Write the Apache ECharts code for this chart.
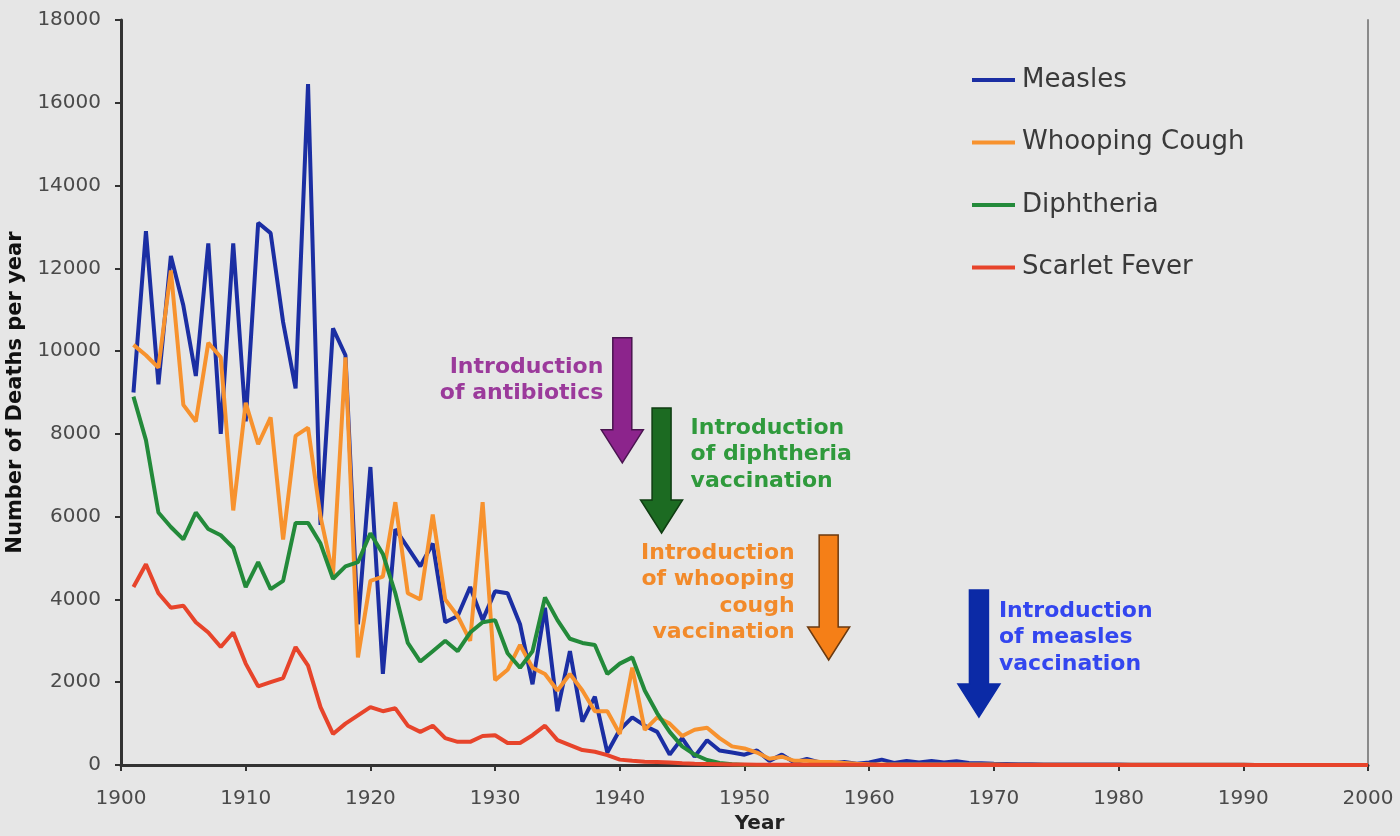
<!DOCTYPE html>
<html>
<head>
<meta charset="utf-8">
<script src="https://cdn.jsdelivr.net/npm/echarts@6/dist/echarts.min.js"></script>
<style>
html,body{margin:0;padding:0;background:#e6e6e6;}
#chart{width:1400px;height:836px;}
</style>
</head>
<body>
<div id="chart"></div>
<script>
// Years 1901..2000
const years = [
1901,1902,1903,1904,1905,1906,1907,1908,1909,1910,
1911,1912,1913,1914,1915,1916,1917,1918,1919,1920,
1921,1922,1923,1924,1925,1926,1927,1928,1929,1930,
1931,1932,1933,1934,1935,1936,1937,1938,1939,1940,
1941,1942,1943,1944,1945,1946,1947,1948,1949,1950,
1951,1952,1953,1954,1955,1956,1957,1958,1959,1960,
1961,1962,1963,1964,1965,1966,1967,1968,1969,1970,
1971,1972,1973,1974,1975,1976,1977,1978,1979,1980,
1981,1982,1983,1984,1985,1986,1987,1988,1989,1990,
1991,1992,1993,1994,1995,1996,1997,1998,1999,2000];

const measles = [
9000,12900,9200,12300,11100,9400,12600,8000,12600,8300,
13100,12850,10700,9100,16450,5800,10550,9900,3400,7200,
2200,5700,5250,4800,5350,3450,3600,4300,3500,4200,
4150,3400,1950,3800,1300,2750,1050,1650,300,850,
1150,950,800,250,650,200,600,350,300,250,
350,100,250,60,150,60,40,70,30,60,
130,50,100,60,100,60,90,50,40,30,
25,20,20,15,15,10,10,10,10,10,
5,5,5,5,5,5,5,5,5,5,
0,0,0,0,0,0,0,0,0,0];

const whoopingCough = [
10150,9900,9600,11950,8700,8300,10200,9850,6150,8750,
7750,8400,5450,7950,8150,6000,4600,9850,2600,4450,
4550,6350,4150,4000,6050,4000,3600,3000,6350,2050,
2300,2900,2350,2200,1800,2200,1800,1300,1300,750,
2350,850,1150,1000,700,850,900,650,450,400,
300,150,200,100,100,80,70,50,30,20,
15,15,15,15,15,10,10,10,10,10,
5,5,5,5,5,5,5,5,5,5,
5,5,5,5,5,5,5,5,5,5,
0,0,0,0,0,0,0,0,0,0];

const diphtheria = [
8900,7850,6100,5750,5450,6100,5700,5550,5250,4300,
4900,4250,4450,5850,5850,5350,4500,4800,4900,5600,
5100,4150,2950,2500,2750,3000,2750,3200,3450,3500,
2700,2350,2750,4050,3500,3050,2950,2900,2200,2450,
2600,1800,1250,800,450,250,120,50,20,0,
0,0,0,0,0,0,0,0,0,0,
0,0,0,0,0,0,0,0,0,0,
0,0,0,0,0,0,0,0,0,0,
0,0,0,0,0,0,0,0,0,0,
0,0,0,0,0,0,0,0,0,0];

const scarletFever = [
4300,4850,4150,3800,3850,3450,3200,2850,3200,2450,
1900,2000,2100,2850,2400,1400,750,1000,1200,1400,
1300,1370,950,800,950,650,560,560,700,720,
530,530,720,950,600,480,360,320,240,130,
100,80,70,60,40,30,25,20,15,10,
5,5,5,5,5,5,5,5,5,5,
0,0,0,0,0,0,0,0,0,0,
0,0,0,0,0,0,0,0,0,0,
0,0,0,0,0,0,0,0,0,0,
0,0,0,0,0,0,0,0,0,0];

const seriesNames = ['Measles','Whooping Cough','Diphtheria','Scarlet Fever'];
const seriesColors = ['#1b2ea3','#f7922e','#238a3a','#e7442b'];
const seriesValues = [measles, whoopingCough, diphtheria, scarletFever];

// Annotations: [year, arrow top value, arrow tip value]
const annYears = [1940.2, 1943.35, 1956.75, 1968.8];
const annTops  = [10320, 8625, 5557, 4228];
const annTips  = [7300, 5605, 2537, 1160];
const annTexts = [
  ['Introduction','of antibiotics'],
  ['Introduction','of diphtheria','vaccination'],
  ['Introduction','of whooping','cough','vaccination'],
  ['Introduction','of measles','vaccination']
];
const annTextColors = ['#9b3a9b','#2f9a3c','#f28a2a','#3346ef'];
const annFill = ['#8c248c','#1c6b22','#f57f17','#0b2aa6'];
const annStroke = ['#4a1450','#0f3d12','#6b3a10','#0b2aa6'];
const annSide = ['left','right','left','right'];
const annDx = [-19, 29, -34, 20];
const annDy = [16, 7, 5, 8];

const chart = echarts.init(document.getElementById('chart'), null, {renderer:'canvas'});

const option = {
  backgroundColor: '#e6e6e6',
  animation: false,
  grid: {left:121, right:32, top:20, bottom:71, containLabel:false, outerBoundsMode:'none'},
  legend: {
    orient: 'vertical',
    left: 972,
    top: 67,
    padding: 0,
    itemWidth: 43,
    itemHeight: 26,
    itemGap: 36.5,
    icon: 'path://M0,0L43,0L43,4L0,4Z',
    textStyle: {fontFamily:'DejaVu Sans', fontSize:26, color:'#3a3a3a', padding:[0,0,0,2]},
    data: seriesNames
  },
  xAxis: {
    type: 'value',
    min: 1900, max: 2000, interval: 10,
    name: 'Year',
    nameLocation: 'middle',
    nameGap: 46,
    nameTextStyle: {fontFamily:'DejaVu Sans', fontWeight:'bold', fontSize:20, color:'#222', padding:[0,0,0,30]},
    axisLine: {show:true, lineStyle:{color:'#333', width:3}},
    axisTick: {show:true, length:6, lineStyle:{color:'#333', width:2}},
    axisLabel: {margin:24, fontFamily:'DejaVu Sans', fontSize:20, color:'#4a4a4a', formatter: v => String(v)},
    splitLine: {show:false}
  },
  yAxis: [{
    type: 'value',
    min: 0, max: 18000, interval: 2000,
    name: 'Number of Deaths per year',
    nameLocation: 'middle',
    nameGap: 80,
    nameTextStyle: {fontFamily:'DejaVu Sans', fontWeight:'bold', fontSize:21, color:'#111'},
    axisLine: {show:true, lineStyle:{color:'#333', width:3}},
    axisTick: {show:true, length:6, lineStyle:{color:'#333', width:2}},
    axisLabel: {margin:20, fontFamily:'DejaVu Sans', fontSize:20, color:'#4a4a4a', formatter: v => String(v)},
    splitLine: {show:false}
  },{
    type: 'value',
    position: 'right',
    min: 0, max: 18000, interval: 2000,
    axisLine: {show:true, lineStyle:{color:'#8a8a8a', width:2}},
    axisTick: {show:false},
    axisLabel: {show:false},
    splitLine: {show:false}
  }],
  series: seriesNames.map((name, i) => ({
    name: name,
    type: 'line',
    symbol: 'none',
    smooth: false,
    color: seriesColors[i],
    lineStyle: {color: seriesColors[i], width: 4},
    z: 2 + i,
    data: years.map((y, k) => [y, seriesValues[i][k]])
  }))
};

chart.setOption(option);

function buildGraphics() {
  const els = [];
  for (let i = 0; i < annYears.length; i++) {
    const top = chart.convertToPixel({gridIndex:0}, [annYears[i], annTops[i]]);
    const tip = chart.convertToPixel({gridIndex:0}, [annYears[i], annTips[i]]);
    const cx = top[0], ty = top[1], py = tip[1];
    const sw = 9.5, hw = 21, hl = 33;
    els.push({
      type: 'polygon',
      z: 100,
      shape: {points: [
        [cx - sw, ty], [cx + sw, ty], [cx + sw, py - hl], [cx + hw, py - hl],
        [cx, py], [cx - hw, py - hl], [cx - sw, py - hl]
      ]},
      style: {fill: annFill[i], stroke: annStroke[i], lineWidth: 1.5}
    });
    els.push({
      type: 'text',
      z: 100,
      x: cx + annDx[i],
      y: ty + annDy[i],
      style: {
        text: annTexts[i].join('\n'),
        fill: annTextColors[i],
        font: 'bold 22px "DejaVu Sans"',
        textAlign: annSide[i] === 'left' ? 'right' : 'left',
        textVerticalAlign: 'top',
        lineHeight: 26.5
      }
    });
  }
  chart.setOption({graphic: els});
}
buildGraphics();
</script>
</body>
</html>
